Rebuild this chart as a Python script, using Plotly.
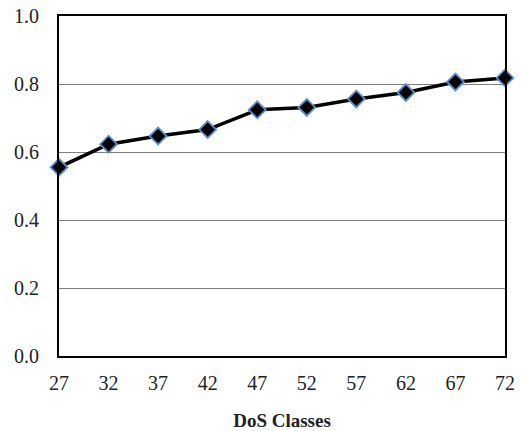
import plotly.graph_objects as go

classes = [27, 32, 37, 42, 47, 52, 57, 62, 67, 72]
values = [0.555, 0.623, 0.647, 0.666, 0.724, 0.731, 0.756, 0.775, 0.806, 0.818]
y_ticks = [0.0, 0.2, 0.4, 0.6, 0.8, 1.0]
y_tick_labels = ["0.0", "0.2", "0.4", "0.6", "0.8", "1.0"]

SERIF = "Times New Roman"
fig = go.Figure()
fig.add_trace(go.Scatter(
    x=classes, y=values, mode="lines+markers",
    line=dict(color="black", width=3.5),
    marker=dict(symbol="diamond", size=13, color="black",
                line=dict(color="#5B8FD0", width=1.8)),
    cliponaxis=False, showlegend=False,
))

fig.update_layout(
    width=528, height=431,
    margin=dict(l=59, r=23, t=16, b=75),
    paper_bgcolor="white", plot_bgcolor="white",
    font=dict(family=SERIF, size=20, color="#222222"),
    xaxis=dict(
        range=[27, 72], tickvals=classes, ticktext=[str(c) for c in classes],
        showgrid=False, zeroline=False, showline=True, linecolor="black",
        linewidth=2, mirror=True, ticks="", ticklen=0, automargin=False,
        tickfont=dict(family=SERIF, size=20, color="#222222"),
        ticklabelstandoff=8,
        title=dict(text="<b>DoS Classes</b>",
                   font=dict(family=SERIF, size=19, color="#222222"),
                   standoff=21),
    ),
    yaxis=dict(
        range=[0, 1.0], tickvals=y_ticks, ticktext=y_tick_labels,
        showgrid=True, gridcolor="#808080", gridwidth=1,
        zeroline=False, showline=True, linecolor="black", linewidth=2,
        mirror=True, ticks="", ticklen=0, automargin=False,
        tickfont=dict(family=SERIF, size=20, color="#222222"),
        ticklabelstandoff=14,
    ),
)
fig.write_html("out.html", config={"displayModeBar": False},
               post_script="document.body.style.margin='0';document.body.style.padding='0';")
